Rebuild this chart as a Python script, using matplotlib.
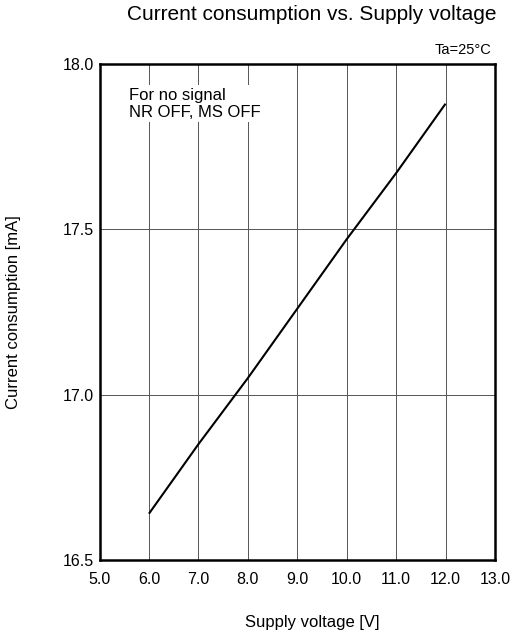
import numpy as np
import matplotlib
matplotlib.use("Agg")
import matplotlib.pyplot as plt

plt.rcParams['font.family'] = ['Liberation Sans', 'DejaVu Sans']

voltage = [6.0, 7.0, 8.0, 9.0, 10.0, 11.0, 12.0]
current = [16.64, 16.85, 17.05, 17.26, 17.47, 17.67, 17.88]

xticks = [5.0, 6.0, 7.0, 8.0, 9.0, 10.0, 11.0, 12.0, 13.0]
yticks = [16.5, 17.0, 17.5, 18.0]

fig = plt.figure(figsize=(5.14, 6.37), dpi=100)
ax = fig.add_axes([0.1936, 0.1209, 0.7694, 0.7786])

ax.plot(voltage, current, color="black", lw=1.5, solid_capstyle="butt")

ax.set_xlim(5.0, 13.0)
ax.set_ylim(16.5, 18.0)
ax.set_xticks(xticks)
ax.set_yticks(yticks)
ax.set_xticklabels(["%.1f" % v for v in xticks])
ax.set_yticklabels(["%.1f" % v for v in yticks])
ax.tick_params(length=0, labelsize=11.5)
ax.tick_params(axis="x", pad=9)
ax.tick_params(axis="y", pad=4)
ax.grid(True, color="#555555", lw=0.7)
for s in ax.spines.values():
	s.set_linewidth(1.8)
	s.set_color("black")

fig.text(0.607, 0.023, "Supply voltage [V]", ha="center", va="center", fontsize=12)
fig.text(0.027, 0.51, "Current consumption [mA]", ha="center", va="center", rotation=90, fontsize=12)

fig.text(0.607, 0.978, "Current consumption vs. Supply voltage", ha="center", va="center", fontsize=15)
ax.text(0.99, 1.015, "Ta=25°C", transform=ax.transAxes, ha="right", va="bottom", fontsize=10.5)
ax.text(0.075, 0.952, "For no signal\nNR OFF, MS OFF", transform=ax.transAxes, ha="left", va="top",
	fontsize=12, linespacing=1.15,
	bbox=dict(facecolor="white", edgecolor="none", pad=2))

fig.savefig("out.png", dpi=100)
